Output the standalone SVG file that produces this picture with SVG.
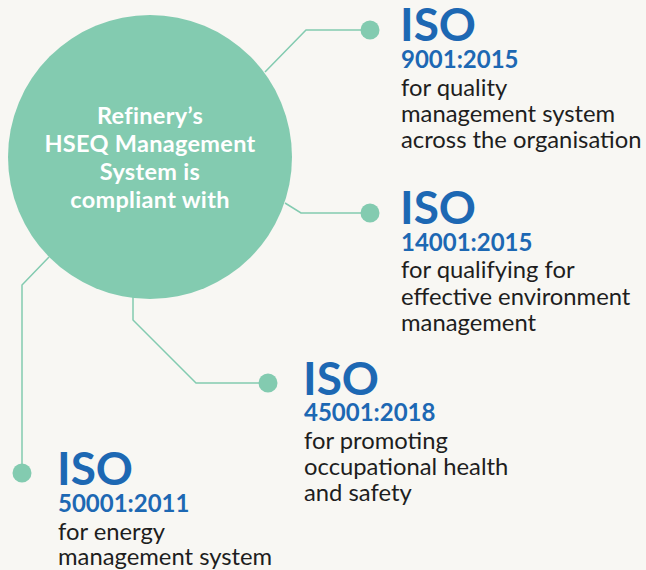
<svg xmlns="http://www.w3.org/2000/svg" width="646" height="570" viewBox="0 0 646 570">
<style>
.hub{fill:#83cbb0}
.hubt{font-family:Lato,"Open Sans",sans-serif;font-weight:bold;font-size:23.5px;letter-spacing:0.3px;fill:#ffffff;text-anchor:middle}
.conn{fill:none;stroke:#83cbb0;stroke-width:1.5}
.dot{fill:#83cbb0}
.iso{font-family:Lato,"Open Sans",sans-serif;font-weight:bold;font-size:46px;fill:#1d68b3}
.num{font-family:Lato,"Open Sans",sans-serif;font-weight:bold;font-size:24px;fill:#1d68b3}
.body{font-family:Lato,"Open Sans",sans-serif;font-size:23.8px;fill:#1e1e1e}
</style>
<rect width="646" height="570" fill="#f8f7f3"/>
<g id="connectors">
<polyline class="conn" points="265,72 306,30 370,30"/>
<polyline class="conn" points="285,203 301,213 370,213"/>
<polyline class="conn" points="133,296 133,320 196,383 268,383"/>
<polyline class="conn" points="49,257 22,285 22,473"/>
<circle class="dot" cx="370" cy="30" r="9.5"/>
<circle class="dot" cx="370" cy="213" r="9.5"/>
<circle class="dot" cx="268" cy="383" r="9.5"/>
<circle class="dot" cx="22" cy="473" r="9.5"/>
</g>
<g id="hub">
<circle class="hub" cx="150" cy="157" r="142"/>
<text class="hubt" x="150" y="124">Refinery’s</text>
<text class="hubt" x="150" y="152">HSEQ Management</text>
<text class="hubt" x="150" y="180">System is</text>
<text class="hubt" x="150" y="208">compliant with</text>
</g>
<g id="iso9001">
<text class="iso" x="400" y="41">ISO</text>
<text class="num" x="401" y="68">9001:2015</text>
<text class="body" x="401" y="96">for quality</text>
<text class="body" x="401" y="122">management system</text>
<text class="body" x="401" y="148">across the organisation</text>
</g>
<g id="iso14001">
<text class="iso" x="400" y="224">ISO</text>
<text class="num" x="401" y="251">14001:2015</text>
<text class="body" x="401" y="278">for qualifying for</text>
<text class="body" x="401" y="305">effective environment</text>
<text class="body" x="401" y="331">management</text>
</g>
<g id="iso45001">
<text class="iso" x="303" y="395">ISO</text>
<text class="num" x="304" y="421">45001:2018</text>
<text class="body" x="304" y="449">for promoting</text>
<text class="body" x="304" y="475">occupational health</text>
<text class="body" x="304" y="501">and safety</text>
</g>
<g id="iso50001">
<text class="iso" x="57" y="485">ISO</text>
<text class="num" x="58" y="512">50001:2011</text>
<text class="body" x="58" y="540">for energy</text>
<text class="body" x="58" y="565">management system</text>
</g>
</svg>
